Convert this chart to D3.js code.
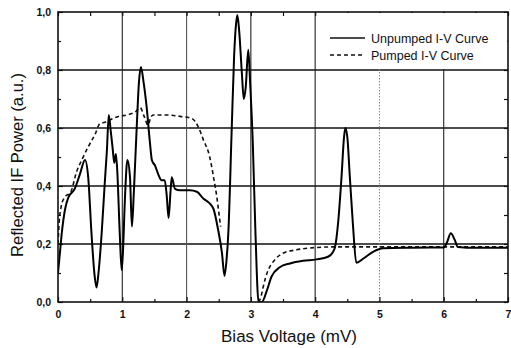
<!DOCTYPE html>
<html>
<head>
<meta charset="utf-8">
<script src="https://cdn.jsdelivr.net/npm/d3@7"></script>
<style>
  body { margin: 0; background: #fff; }
  svg { display: block; font-family: "Liberation Sans", Arial, sans-serif; }
</style>
</head>
<body>
<svg id="chart" width="511" height="348"></svg>
<script>
// values
const unpumpedV = [0, 0.03, 0.06, 0.11, 0.16, 0.26, 0.34, 0.42, 0.47, 0.52, 0.57, 0.60, 0.63, 0.68, 0.73, 0.76, 0.79, 0.82, 0.85, 0.875, 0.90, 0.92, 0.96, 0.99, 1.01, 1.04, 1.08, 1.12, 1.15, 1.18, 1.22, 1.26, 1.29, 1.33, 1.38, 1.43, 1.46, 1.51, 1.56, 1.61, 1.66, 1.69, 1.72, 1.75, 1.77, 1.82, 1.9, 2.05, 2.16, 2.26, 2.36, 2.42, 2.49, 2.55, 2.59, 2.62, 2.65, 2.70, 2.74, 2.77, 2.79, 2.82, 2.86, 2.89, 2.92, 2.96, 2.99, 3.03, 3.07, 3.12, 3.17, 3.25, 3.32, 3.45, 3.61, 3.81, 4.02, 4.2, 4.27, 4.31, 4.36, 4.41, 4.45, 4.47, 4.50, 4.54, 4.59, 4.64, 4.75, 4.9, 5.06, 5.5, 6.0, 6.05, 6.11, 6.17, 6.22, 6.5, 7.0];
const unpumpedP = [0.10, 0.17, 0.24, 0.32, 0.36, 0.39, 0.44, 0.49, 0.43, 0.24, 0.09, 0.05, 0.10, 0.24, 0.42, 0.52, 0.645, 0.59, 0.53, 0.48, 0.51, 0.46, 0.24, 0.11, 0.17, 0.35, 0.49, 0.43, 0.26, 0.38, 0.58, 0.76, 0.81, 0.76, 0.67, 0.55, 0.49, 0.47, 0.44, 0.42, 0.42, 0.37, 0.29, 0.38, 0.43, 0.39, 0.385, 0.385, 0.38, 0.357, 0.34, 0.32, 0.25, 0.17, 0.09, 0.14, 0.24, 0.58, 0.85, 0.96, 0.99, 0.93, 0.79, 0.70, 0.74, 0.87, 0.75, 0.55, 0.25, 0.0, 0.0, 0.04, 0.087, 0.12, 0.133, 0.142, 0.147, 0.156, 0.17, 0.19, 0.28, 0.43, 0.57, 0.60, 0.57, 0.43, 0.26, 0.135, 0.15, 0.173, 0.185, 0.187, 0.188, 0.205, 0.237, 0.215, 0.19, 0.187, 0.187];

const pumpedV = [0, 0.02, 0.05, 0.1, 0.2, 0.29, 0.37, 0.47, 0.58, 0.65, 0.73, 0.83, 0.94, 1.07, 1.2, 1.28, 1.34, 1.40, 1.44, 1.48, 1.69, 1.9, 2.08, 2.18, 2.26, 2.36, 2.42, 2.47, 2.51, 2.53, 2.8, 3.12, 3.16, 3.19, 3.23, 3.27, 3.37, 3.5, 3.71, 4.02, 4.28, 5.0, 6.0, 7.0];
const pumpedP = [0.20, 0.28, 0.33, 0.36, 0.38, 0.45, 0.49, 0.535, 0.58, 0.615, 0.62, 0.63, 0.64, 0.645, 0.655, 0.67, 0.64, 0.61, 0.635, 0.645, 0.645, 0.64, 0.633, 0.605, 0.56, 0.50, 0.43, 0.363, 0.294, 0.26, null, 0.0, 0.02, 0.05, 0.085, 0.11, 0.145, 0.168, 0.18, 0.188, 0.19, 0.19, 0.19, 0.19];

const xTicks = [0, 1, 2, 3, 4, 5, 6, 7];
const yTicks = [0, 0.2, 0.4, 0.6, 0.8, 1.0];
const seriesNames = ["Unpumped I-V Curve", "Pumped I-V Curve"];

const svg = d3.select("#chart");
const mLeft = 58, mRight = 508, mTop = 12, mBottom = 302;

const x = d3.scaleLinear().domain([0, 7]).range([mLeft, mRight]);
const y = d3.scaleLinear().domain([0, 1]).range([mBottom, mTop]);
const fmt = d => d3.format(".1f")(d).replace(".", ",");

// scale a text's font so it spans the width measured on the scan
function fitWidth(sel, base, width) {
  const w = sel.node().getComputedTextLength();
  sel.attr("font-size", base * width / w);
}

// grid
const grid = svg.append("g");
grid.selectAll("line.h").data(yTicks.slice(1, -1)).join("line")
  .attr("x1", mLeft).attr("x2", mRight)
  .attr("y1", d => y(d)).attr("y2", d => y(d))
  .attr("stroke", "#111").attr("stroke-width", 1.3);
grid.selectAll("line.v").data(xTicks.slice(1, -1)).join("line")
  .attr("x1", d => x(d)).attr("x2", d => x(d))
  .attr("y1", mTop).attr("y2", mBottom)
  .attr("stroke", d => d === 5 ? "#888" : d === 2 ? "#555" : "#222")
  .attr("stroke-width", d => d === 5 ? 1 : 1.1)
  .attr("stroke-dasharray", d => d === 5 ? "1.5,1.5" : null);

// axes with inward ticks
const xMinor = d3.range(0.5, 7, 1);
const yMinor = d3.range(0.1, 1, 0.2);
svg.append("g").attr("transform", `translate(0,${mBottom})`)
  .call(d3.axisBottom(x).tickValues(xTicks).tickSize(-5).tickPadding(9).tickFormat(d3.format("d")))
  .call(g => g.select(".domain").remove());
svg.append("g").attr("transform", `translate(0,${mBottom})`)
  .call(d3.axisBottom(x).tickValues(xMinor).tickSize(-3).tickFormat(""))
  .call(g => g.select(".domain").remove());
svg.append("g").attr("transform", `translate(0,${mTop})`)
  .call(d3.axisTop(x).tickValues(xTicks.concat(xMinor)).tickSize(-4).tickFormat(""))
  .call(g => g.select(".domain").remove());
svg.append("g").attr("transform", `translate(${mLeft},0)`)
  .call(d3.axisLeft(y).tickValues(yTicks).tickSize(-5).tickPadding(7).tickFormat(fmt))
  .call(g => g.select(".domain").remove());
svg.append("g").attr("transform", `translate(${mLeft},0)`)
  .call(d3.axisLeft(y).tickValues(yMinor).tickSize(-3).tickFormat(""))
  .call(g => g.select(".domain").remove());
svg.append("g").attr("transform", `translate(${mRight},0)`)
  .call(d3.axisRight(y).tickValues(yTicks.concat(yMinor)).tickSize(-4).tickFormat(""))
  .call(g => g.select(".domain").remove());
svg.selectAll(".tick line").attr("stroke", "#111").attr("stroke-width", 1.2);
svg.selectAll(".tick text").attr("font-size", 10.5).attr("font-weight", "bold")
  .attr("font-family", "Liberation Sans, Arial, sans-serif").attr("fill", "#111");

// legend box (white, covers grid)
svg.append("rect").attr("x", x(4) + 2).attr("y", mTop + 1)
  .attr("width", mRight - x(4) - 3).attr("height", y(0.8) - mTop - 2).attr("fill", "#fff");

// curves
svg.append("clipPath").attr("id", "clip").append("rect")
  .attr("x", mLeft).attr("y", mTop - 2).attr("width", mRight - mLeft).attr("height", mBottom - mTop + 2);

const line = d3.line()
  .defined(d => d[1] !== null)
  .x(d => x(d[0])).y(d => y(d[1]))
  .curve(d3.curveMonotoneX);

svg.append("path")
  .datum(pumpedV.map((v, i) => [v, pumpedP[i]]))
  .attr("clip-path", "url(#clip)")
  .attr("fill", "none").attr("stroke", "#111").attr("stroke-width", 1.6)
  .attr("stroke-dasharray", "4,3")
  .attr("d", line);

svg.append("path")
  .datum(unpumpedV.map((v, i) => [v, unpumpedP[i]]))
  .attr("clip-path", "url(#clip)")
  .attr("fill", "none").attr("stroke", "#000").attr("stroke-width", 2)
  .attr("stroke-linejoin", "round")
  .attr("d", line);

// frame
svg.append("rect").attr("x", mLeft).attr("y", mTop)
  .attr("width", mRight - mLeft).attr("height", mBottom - mTop)
  .attr("fill", "none").attr("stroke", "#111").attr("stroke-width", 1.6);

// legend
const legend = svg.append("g").attr("fill", "#111");
seriesNames.forEach((name, i) => {
  const ly = 38 + i * 17;
  legend.append("line").attr("x1", 330).attr("x2", 365).attr("y1", ly).attr("y2", ly)
    .attr("stroke", "#111").attr("stroke-width", i === 0 ? 1.6 : 1.4)
    .attr("stroke-dasharray", i === 0 ? null : "4,3");
  legend.append("text").attr("x", 371).attr("y", ly + 4.5).attr("font-size", 12.5).text(name);
});

// axis titles
const xt = svg.append("text").attr("x", 289).attr("y", 342)
  .attr("text-anchor", "middle").attr("font-size", 14).attr("fill", "#111")
  .text("Bias Voltage (mV)");
fitWidth(xt, 14, 136);
const yt = svg.append("text").attr("transform", "translate(23,165) rotate(-90)")
  .attr("text-anchor", "middle").attr("font-size", 14).attr("fill", "#111")
  .text("Reflected IF Power (a.u.)");
fitWidth(yt, 14, 184);
</script>
</body>
</html>
